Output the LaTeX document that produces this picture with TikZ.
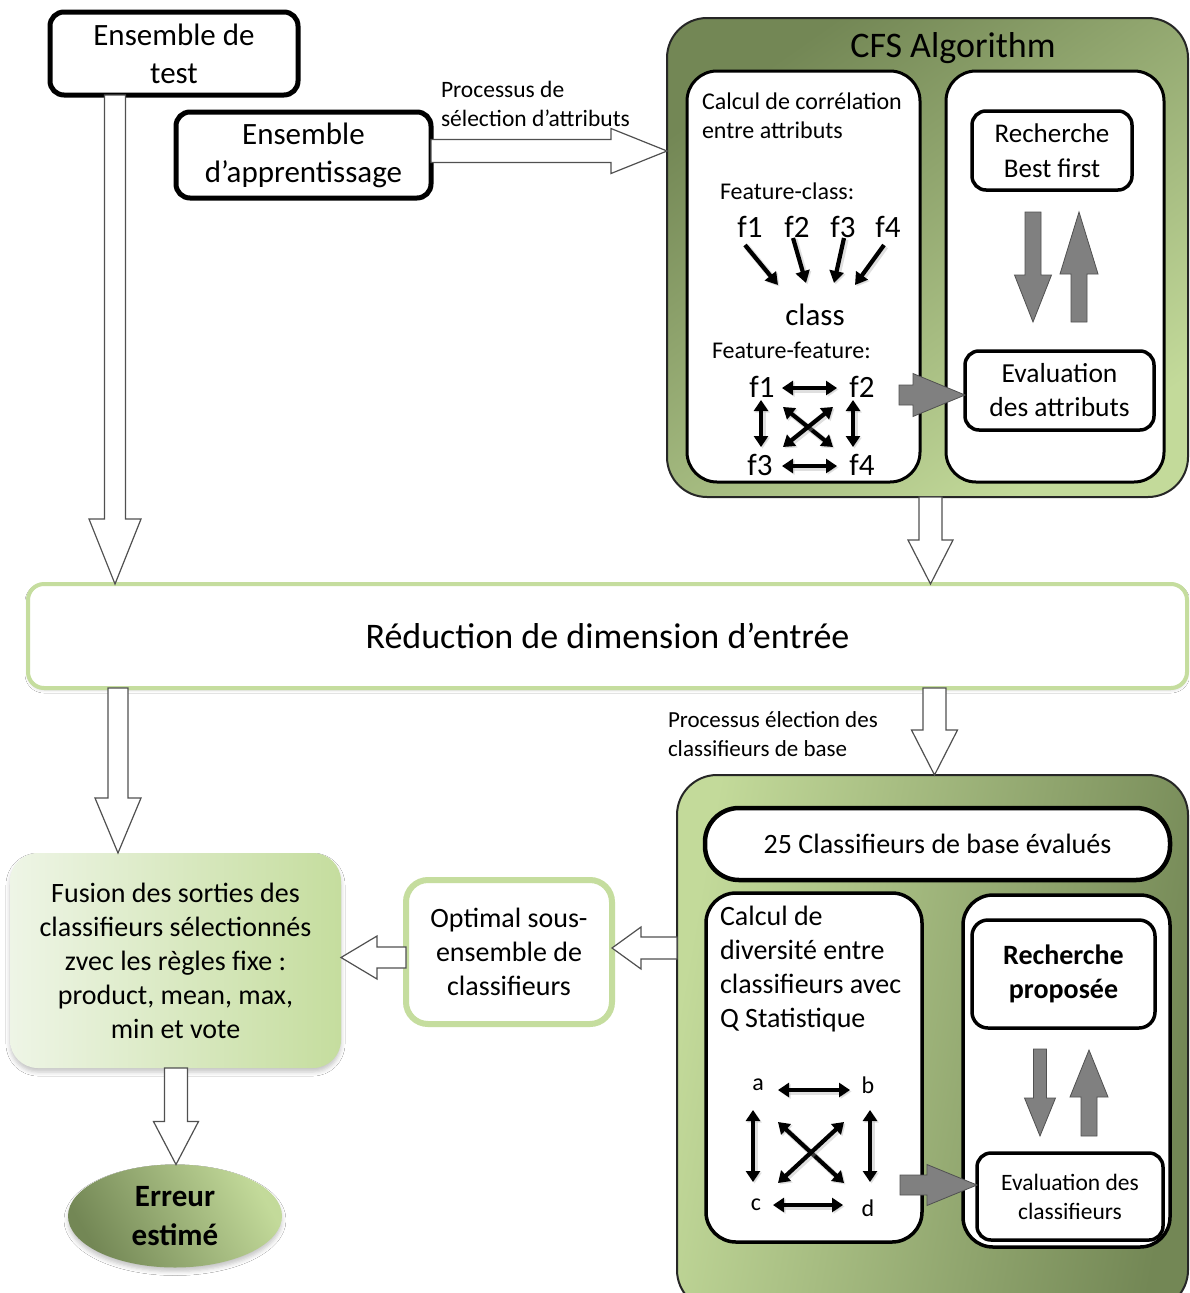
\documentclass[tikz,border=0pt]{standalone}
\usepackage{fontspec}
\setmainfont{Carlito}
\usetikzlibrary{calc,arrows.meta,shapes.geometric,shadows,shadows.blur}

\definecolor{olivedark}{HTML}{738755}
\definecolor{olivelight}{HTML}{C3DA9A}
\definecolor{palegreen}{HTML}{C5DD9E}
\definecolor{paleleft}{HTML}{EEF5E6}
\definecolor{arrowgray}{HTML}{808080}
\definecolor{arrowedge}{HTML}{505050}

\newcommand\fsz[2]{\fontsize{#1}{#2}\selectfont}

% block arrow: from, to, shaft half-width, head half-width, head length, style
\newcommand\blockarrow[6]{%
  \coordinate (ba0) at (#1);
  \coordinate (ba1) at (#2);
  \coordinate (bah) at ($(ba1)!#5!(ba0)$);
  \filldraw[#6] ($(ba0)!#3!90:(ba1)$) -- ($(bah)!#3!-90:(ba0)$) -- ($(bah)!#4!-90:(ba0)$)
     -- (ba1) -- ($(bah)!#4!90:(ba0)$) -- ($(bah)!#3!90:(ba0)$) -- ($(ba0)!#3!-90:(ba1)$) -- cycle;
}

\begin{document}
\begin{tikzpicture}[x=1pt,y=-1pt,
  every node/.style={inner sep=0pt, outer sep=0pt},
  boldbox/.style={draw=black, line width=5pt, rounded corners=14pt, fill=white, align=center},
  panel/.style={draw=black, line width=3pt, rounded corners=30pt, fill=white},
  innerbox/.style={draw=black, line width=3.5pt, rounded corners=14pt, fill=white, align=center},
  outerbox/.style={draw=black!85, line width=2pt, rounded corners=40pt},
  openblock/.style={fill=white, draw=arrowedge, line width=1.2pt},
  grayblock/.style={fill=arrowgray, draw=arrowedge, line width=0.8pt},
  fcarrow/.style={line width=4.2pt, -{Triangle[width=14pt,length=12pt]},
    preaction={draw=black!35, line width=6pt, opacity=0.35, transform canvas={xshift=1.5pt,yshift=-1.5pt}}},
  ffarrow/.style={line width=4.2pt, {Triangle[width=14pt,length=11pt]}-{Triangle[width=14pt,length=11pt]},
    preaction={draw=black!35, line width=6pt, opacity=0.35, transform canvas={xshift=1.5pt,yshift=-1.5pt}}},
  lbl/.style={anchor=west, align=left}]

\useasboundingbox (0,0) rectangle (1189,1293);
\fill[white] (0,0) rectangle (1189,1293);

% ---------- inputs ----------
\node[boldbox, minimum width=248pt, minimum height=83pt, font=\fsz{31}{38}] (test) at (174,53.5) {Ensemble de\\test};
\node[boldbox, minimum width=255pt, minimum height=86pt, font=\fsz{31}{38}] (app) at (303.5,155) {Ensemble\\d’apprentissage};
\node[lbl, font=\fsz{23.5}{29}] (lblsel) at (441,103.5) {Processus de\\sélection d’attributs};

% ---------- CFS algorithm block ----------
\node[outerbox, minimum width=521pt, minimum height=479pt,
      top color=olivedark, bottom color=olivelight, shading angle=35] (cfs) at (927.5,257.5) {};
\node[font=\fsz{36}{40}] (cfstitle) at (953,48) {CFS Algorithm};
\node[panel, minimum width=233pt, minimum height=411pt] (cfsL) at (803.5,276.5) {};
\node[panel, minimum width=218pt, minimum height=411pt] (cfsR) at (1055,276.5) {};

\node[lbl, font=\fsz{24}{29}] (corr) at (702,115.5) {Calcul de corrélation\\entre attributs};
\node[lbl, font=\fsz{24}{29}] (fclass) at (720,191) {Feature-class:};
\foreach \n/\x in {1/750,2/797,3/843,4/888}
  \node[font=\fsz{31}{36}] (c\n) at (\x,227) {f\n};
\node[font=\fsz{31}{36}] (cls) at (815,315) {class};
\draw[fcarrow] (745,245) -- (778,285);
\draw[fcarrow] (793,238) -- (806,283);
\draw[fcarrow] (844,238) -- (834,283);
\draw[fcarrow] (884,245) -- (855,285);

\node[lbl, font=\fsz{24}{29}] (ffeat) at (712,350) {Feature-feature:};
\node[font=\fsz{31}{36}] (g1) at (762,387) {f1};
\node[font=\fsz{31}{36}] (g2) at (862,387) {f2};
\node[font=\fsz{31}{36}] (g3) at (760,465) {f3};
\node[font=\fsz{31}{36}] (g4) at (862,465) {f4};
\draw[ffarrow] (782,388) -- (837,388);
\draw[ffarrow] (782,466) -- (837,466);
\draw[ffarrow] (761,400) -- (761,447);
\draw[ffarrow] (853,400) -- (853,447);
\draw[ffarrow] (783,407) -- (833,447);
\draw[ffarrow] (783,447) -- (833,407);

\node[innerbox, minimum width=160pt, minimum height=79pt, font=\fsz{27}{35}] (bf) at (1052,150.5) {Recherche\\Best first};
\node[innerbox, minimum width=189pt, minimum height=79pt, font=\fsz{27.5}{34}] (evatt) at (1059.5,390.5) {Evaluation\\des attributs};

\coordinate (dnA) at (1033,212); \coordinate (dnB) at (1033,322);
\coordinate (upA) at (1079,322); \coordinate (upB) at (1079,212);
\coordinate (rtA) at (899,395);
\blockarrow{dnA}{dnB}{8pt}{18.5pt}{47pt}{grayblock}
\blockarrow{upA}{upB}{8pt}{19pt}{62pt}{grayblock}
\blockarrow{rtA}{evatt.west |- rtA}{10pt}{21.5pt}{52pt}{grayblock}

% ---------- dimension reduction ----------
\node[draw=palegreen, line width=4pt, rounded corners=16pt, fill=white,
      minimum width=1159pt, minimum height=104pt, font=\fsz{36}{40},
      blur shadow={shadow xshift=0pt, shadow yshift=-2pt, shadow blur radius=3pt, shadow opacity=18}]
      (red) at (607.5,636) {Réduction de dimension d’entrée};
\node[lbl, font=\fsz{23}{29}] (lblel) at (668,734.5) {Processus élection des\\classifieurs de base};

% ---------- classifier selection block ----------
\node[outerbox, minimum width=511pt, minimum height=535pt,
      left color=olivelight, right color=olivedark, shading angle=80] (bot) at (932.5,1042.5) {};
\node[draw=black, line width=4.5pt, rounded corners=34pt, fill=white,
      minimum width=465pt, minimum height=72pt, font=\fsz{28}{34}] (c25) at (937.5,844) {25 Classifieurs de base évalués};
\node[panel, line width=3.5pt, minimum width=216pt, minimum height=349pt] (botL) at (814,1067.5) {};
\node[panel, line width=3.5pt, minimum width=207pt, minimum height=352pt] (botR) at (1066.5,1071) {};

\node[lbl, font=\fsz{28}{34}] (div) at (720,969) {Calcul de\\diversité entre\\classifieurs avec\\Q Statistique};
\node[font=\fsz{24}{30}] (na) at (758,1085) {a};
\node[font=\fsz{24}{30}] (nb) at (868,1085) {b};
\node[font=\fsz{24}{30}] (nc) at (756,1205) {c};
\node[font=\fsz{24}{30}] (nd) at (868,1208) {d};
\draw[ffarrow] (778,1090) -- (850,1090);
\draw[ffarrow] (773,1205) -- (843,1205);
\draw[ffarrow] (753,1110) -- (753,1182);
\draw[ffarrow] (870,1110) -- (870,1182);
\draw[ffarrow] (778,1122) -- (844,1183);
\draw[ffarrow] (778,1183) -- (844,1122);

\node[innerbox, minimum width=183pt, minimum height=108pt, rounded corners=16pt,
      font=\bfseries\fsz{28}{34}] (rp) at (1063.5,974) {Recherche\\proposée};
\node[innerbox, minimum width=186pt, minimum height=87pt, font=\fsz{23.5}{29}] (evcl) at (1070,1196.5) {Evaluation des\\classifieurs};

\coordinate (dn2A) at (1040,1049); \coordinate (dn2B) at (1040,1136);
\coordinate (up2A) at (1089,1136); \coordinate (up2B) at (1089,1050);
\coordinate (rt2A) at (900,1185);
\blockarrow{dn2A}{dn2B}{6.5pt}{15.5pt}{38pt}{grayblock}
\blockarrow{up2A}{up2B}{8pt}{19pt}{47pt}{grayblock}
\blockarrow{rt2A}{evcl.west |- rt2A}{10pt}{20.5pt}{50pt}{grayblock}

% ---------- fusion and result ----------
\node[draw=palegreen, line width=6pt, rounded corners=22pt, fill=white,
      minimum width=206pt, minimum height=144pt, align=center, font=\fsz{28}{34}]
      (opt) at (509,952) {Optimal sous-\\ensemble de\\classifieurs};
\node[rounded corners=28pt, left color=paleleft, right color=palegreen,
      minimum width=331pt, minimum height=215pt, align=center, font=\fsz{28}{34},
      blur shadow={shadow xshift=0pt, shadow yshift=-4pt, shadow blur radius=4pt, shadow opacity=22}]
      (fus) at (175.5,960.5) {Fusion des sorties des\\classifieurs sélectionnés\\zvec les règles fixe :\\product, mean, max,\\min et vote};
\node[ellipse, minimum width=214pt, minimum height=103pt,
      top color=olivelight, bottom color=olivedark, shading angle=-60,
      blur shadow={shadow xshift=0pt, shadow yshift=-4pt, shadow blur radius=4pt, shadow opacity=22}]
      (err) at (175,1216) {};
\node[align=center, font=\bfseries\fsz{31}{39}] (errtxt) at (175,1216) {Erreur\\estimé};

% ---------- flow arrows ----------
\coordinate (xa) at (115,0);
\coordinate (ya) at (0,151);
\coordinate (xb) at (930.5,0);
\coordinate (xc) at (118,0);
\coordinate (xd) at (934.5,0);
\coordinate (yd) at (0,948);
\coordinate (ye) at (0,957.5);
\coordinate (xf) at (176,0);

\blockarrow{test.south -| xa}{red.north -| xa}{10.5pt}{26pt}{65pt}{openblock}
\blockarrow{app.east |- ya}{cfs.west |- ya}{11.5pt}{22.5pt}{56pt}{openblock}
\blockarrow{cfs.south -| xb}{red.north -| xb}{11.5pt}{22.5pt}{44pt}{openblock}
\blockarrow{red.south -| xc}{fus.north -| xc}{10pt}{23pt}{55pt}{openblock}
\blockarrow{red.south -| xd}{bot.north -| xd}{11.5pt}{23pt}{45pt}{openblock}
\blockarrow{bot.west |- yd}{opt.east |- yd}{11pt}{21pt}{29pt}{openblock}
\blockarrow{opt.west |- ye}{fus.east |- ye}{10.5pt}{21.5pt}{36pt}{openblock}
\blockarrow{fus.south -| xf}{err.north -| xf}{11.5pt}{22.5pt}{43pt}{openblock}

\end{tikzpicture}
\end{document}
